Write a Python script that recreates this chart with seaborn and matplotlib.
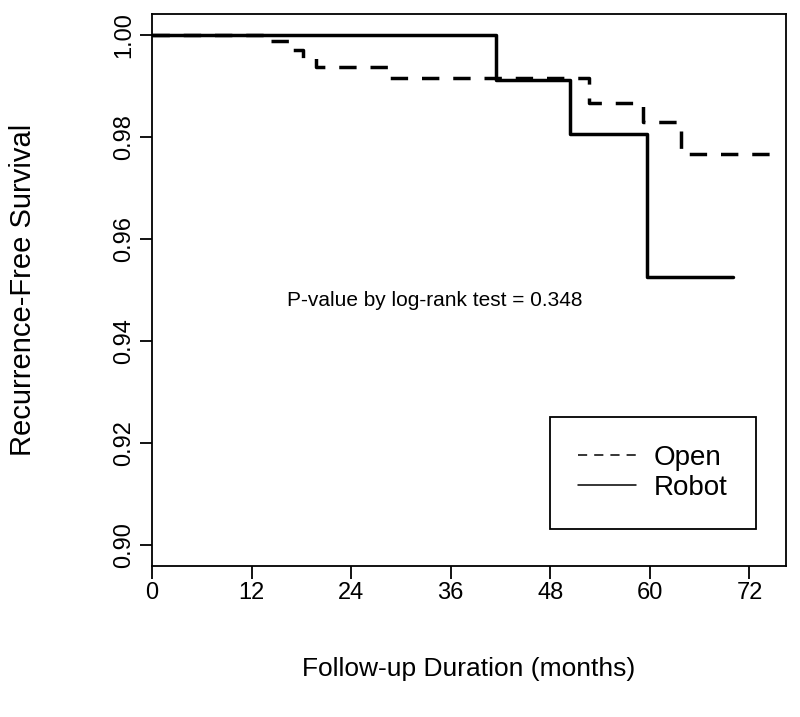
import matplotlib
matplotlib.use("Agg")
import matplotlib.pyplot as plt
import seaborn as sns
import pandas as pd

# ==========================
#  DATA
# ==========================
open_time = [0, 14.0, 16.5, 18.2, 19.8, 28.5, 52.7, 59.2, 63.7, 74.7]
open_surv = [1.0, 0.9989, 0.9972, 0.9956, 0.9938, 0.9917, 0.9868, 0.9829, 0.9768, 0.9768]

robot_time = [0, 41.4, 50.4, 59.6, 70.0]
robot_surv = [1.0, 0.9912, 0.9807, 0.9526, 0.9526]

groups = ["Open", "Robot"]
x_ticks = [0, 12, 24, 36, 48, 60, 72]
y_ticks = [0.90, 0.92, 0.94, 0.96, 0.98, 1.00]
p_text = "P-value by log-rank test = 0.348"

df = pd.concat([
    pd.DataFrame({"Months": open_time, "Survival": open_surv, "Group": "Open"}),
    pd.DataFrame({"Months": robot_time, "Survival": robot_surv, "Group": "Robot"}),
], ignore_index=True)

# ==========================
#  STYLE
# ==========================
sns.set_style("ticks")
plt.rcParams["font.family"] = ["Liberation Sans", "DejaVu Sans"]
plt.rcParams["font.size"] = 17
plt.rcParams["text.color"] = "black"
plt.rcParams["axes.labelcolor"] = "black"

fig = plt.figure(figsize=(8, 7.17), dpi=100)
ax = fig.add_axes([152 / 800, 1 - 566 / 717, (786 - 152) / 800, (566 - 14) / 717])

sns.lineplot(data=df, x="Months", y="Survival", hue="Group", style="Group",
             hue_order=groups, style_order=groups,
             palette={"Open": "black", "Robot": "black"},
             dashes={"Open": (5, 4), "Robot": ""},
             estimator=None, sort=False, drawstyle="steps-post",
             linewidth=2.5, ax=ax)

ax.set_xlim(0, 76.4)
ax.set_ylim(0.8958, 1.0042)
ax.set_xticks(x_ticks)
ax.set_yticks(y_ticks)
ax.set_yticklabels([f"{v:.2f}" for v in y_ticks])
ax.set_xlabel("Follow-up Duration (months)", fontsize=19, labelpad=38, color="black")
ax.set_ylabel("Recurrence-Free Survival", fontsize=21, labelpad=55, color="black")

for side in ["top", "right", "bottom", "left"]:
    ax.spines[side].set_visible(True)
    ax.spines[side].set_color("black")
    ax.spines[side].set_linewidth(1.3)

ax.tick_params(axis="both", direction="out", length=9, width=1.3,
               colors="black", labelsize=17)
ax.tick_params(axis="y", pad=3, labelrotation=90)
ax.tick_params(axis="x", pad=2.5)
for lab in ax.get_yticklabels():
    lab.set_va("center")

ax.text(34.1, 0.948, p_text, ha="center", va="center", fontsize=15, color="black")

# legend: rebuild without title, thin sample lines
handles, labels = ax.get_legend_handles_labels()
keep = [(h, l) for h, l in zip(handles, labels) if l in groups]
leg = ax.legend([h for h, l in keep], [l for h, l in keep],
                loc="center", bbox_to_anchor=(0.79, 0.169),
                frameon=True, fancybox=False, shadow=False, framealpha=1,
                edgecolor="black", fontsize=20, handlelength=2.1,
                handletextpad=0.64, borderpad=1.0, labelspacing=0.15,
                borderaxespad=0, labelcolor="black")
leg.get_frame().set_linewidth(1.3)
for line, lab in zip(leg.get_lines(), [l for h, l in keep]):
    line.set_linewidth(1.1)
    line.set_color("black")
    if lab == "Open":
        line.set_dashes((6, 4.6))

plt.savefig("out.png", dpi=100)
